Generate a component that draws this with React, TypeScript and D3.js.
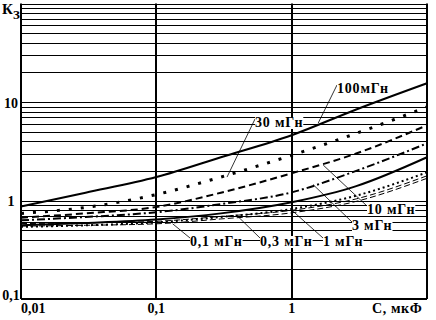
import React, { useEffect, useRef } from "react";
import * as d3 from "d3";

// C, мкФ
const capacitance = [0.01, 0.03, 0.1, 0.3, 1, 3, 10];

// К3 for each inductance
const k100 = [0.87, 1.2, 1.73, 2.75, 4.6, 8.4, 15.5];
const k30 = [0.74, 0.85, 1.15, 1.73, 2.88, 4.8, 8.9];
const k10 = [0.67, 0.74, 0.86, 1.2, 1.89, 3.0, 5.8];
const k3 = [0.63, 0.68, 0.76, 0.92, 1.21, 2.0, 3.8];
const k1 = [0.56, 0.59, 0.64, 0.74, 0.96, 1.4, 2.75];
const k03 = [0.54, 0.56, 0.6, 0.68, 0.82, 1.12, 1.93];
const k01 = [0.55, 0.56, 0.58, 0.65, 0.75, 0.98, 1.68];

const seriesNames = ["100мГн", "30 мГн", "10 мГн", "3 мГн", "1 мГн", "0,3 мГн", "0,1 мГн"];

const xTicks = [0.01, 0.1, 1];
const xTickLabels = ["0,01", "0,1", "1"];
const yTicks = [0.1, 1, 10];
const yTickLabels = ["0,1", "1", "10"];

// leader line anchors on the curves (C, K)
const anchorC = [1.57, 0.333, 1.71, 1.44, 1.0, 0.4, 0.132];
const anchorK = [6.1, 1.73, 2.29, 1.45, 0.8, 0.69, 0.58];

const App = () => {
  const ref = useRef<SVGSVGElement>(null);

  useEffect(() => {
    const svg = d3.select(ref.current);
    svg.selectAll("*").remove();

    const font = "'Liberation Serif', 'Times New Roman', serif";
    const x = d3.scaleLog().domain([0.01, 10]).range([21, 427]);
    const y = d3.scaleLog().domain([0.1, 100]).range([299, 3.5]);

    // horizontal grid
    svg
      .append("g")
      .selectAll("line")
      .data(y.ticks())
      .enter()
      .append("line")
      .attr("x1", x(0.01))
      .attr("x2", x(10))
      .attr("y1", (d) => Math.round(y(d)) + 0.5)
      .attr("y2", (d) => Math.round(y(d)) + 0.5)
      .attr("stroke", "#000")
      .attr("stroke-width", 1.2);

    // vertical grid + borders
    svg
      .append("g")
      .selectAll("line")
      .data([0.01, 0.1, 1, 10])
      .enter()
      .append("line")
      .attr("x1", (d) => Math.round(x(d)))
      .attr("x2", (d) => Math.round(x(d)))
      .attr("y1", y(100))
      .attr("y2", y(0.1))
      .attr("stroke", "#000")
      .attr("stroke-width", 2);

    svg
      .append("line")
      .attr("x1", x(0.01))
      .attr("x2", x(10))
      .attr("y1", Math.round(y(0.1)))
      .attr("y2", Math.round(y(0.1)))
      .attr("stroke", "#000")
      .attr("stroke-width", 2);

    const series = [k100, k30, k10, k3, k1, k03, k01];
    const styles = [
      { w: 2, dash: null },
      { w: 3, dash: "3,9" },
      { w: 2, dash: "7,4" },
      { w: 2, dash: "8,3,2,3" },
      { w: 2, dash: null },
      { w: 2, dash: "2,3" },
      { w: 1, dash: "6,3" },
    ];

    const line = d3
      .line<number>()
      .x((d, i) => x(capacitance[i]))
      .y((d) => y(d))
      .curve(d3.curveMonotoneX);

    const curves = svg.append("g");
    series.forEach((s, i) => {
      const p = curves
        .append("path")
        .attr("d", line(s))
        .attr("fill", "none")
        .attr("stroke", "#000")
        .attr("stroke-width", styles[i].w);
      if (styles[i].dash) p.attr("stroke-dasharray", styles[i].dash);
      // 0.1 мГн is drawn as a thin double line
      if (i === 6) {
        curves
          .append("path")
          .attr("d", line(s))
          .attr("transform", "translate(0,-2.5)")
          .attr("fill", "none")
          .attr("stroke", "#000")
          .attr("stroke-width", 1)
          .attr("stroke-dasharray", styles[i].dash);
      }
    });

    // labels with white boxes and leaders
    const labelPos = [
      [337, 93],
      [255, 127],
      [367, 214],
      [352, 230],
      [323, 246],
      [260, 246],
      [190, 246],
    ];
    const labels = svg.append("g");
    seriesNames.forEach((name, i) => {
      const [lx, ly] = labelPos[i];
      labels
        .append("line")
        .attr("x1", lx)
        .attr("y1", ly - 8)
        .attr("x2", x(anchorC[i]))
        .attr("y2", y(anchorK[i]))
        .attr("stroke", "#000")
        .attr("stroke-width", 0.8);
      const box = labels.append("rect").attr("fill", "#fff");
      const t = labels
        .append("text")
        .attr("x", lx)
        .attr("y", ly)
        .attr("font-family", font)
        .attr("font-weight", "bold")
        .attr("font-size", 14)
        .attr("letter-spacing", 0.8)
        .text(name);
      const bb = (t.node() as SVGTextElement).getBBox();
      box
        .attr("x", bb.x)
        .attr("y", bb.y + 2)
        .attr("width", bb.width)
        .attr("height", bb.height - 3);
    });

    // axis tick labels
    const txt = (g: any) =>
      g.attr("font-family", font).attr("font-weight", "bold").attr("font-size", 14).attr("fill", "#000");

    xTicks.forEach((v, i) => {
      svg
        .append("text")
        .attr("x", x(v))
        .attr("y", 313)
        .attr("text-anchor", i === 0 ? "start" : "middle")
        .call(txt)
        .text(xTickLabels[i]);
    });
    yTicks.forEach((v, i) => {
      svg
        .append("text")
        .attr("x", 11)
        .attr("y", i === 0 ? 300 : y(v) + 5.5)
        .attr("text-anchor", "middle")
        .call(txt)
        .text(yTickLabels[i]);
    });

    svg
      .append("text")
      .attr("x", 372)
      .attr("y", 313)
      .call(txt)
      .attr("letter-spacing", 0.6)
      .text("С, мкФ");

    const k = svg.append("text").attr("x", 2).attr("y", 14).call(txt).attr("font-size", 15);
    k.append("tspan").text("К");
    k.append("tspan").attr("dy", 5).attr("font-size", 13).text("З");
  }, []);

  return (
    <svg
      ref={ref}
      width={436}
      height={320}
      style={{ position: "absolute", left: 0, top: 0, background: "#fff" }}
    />
  );
};

export default App;
